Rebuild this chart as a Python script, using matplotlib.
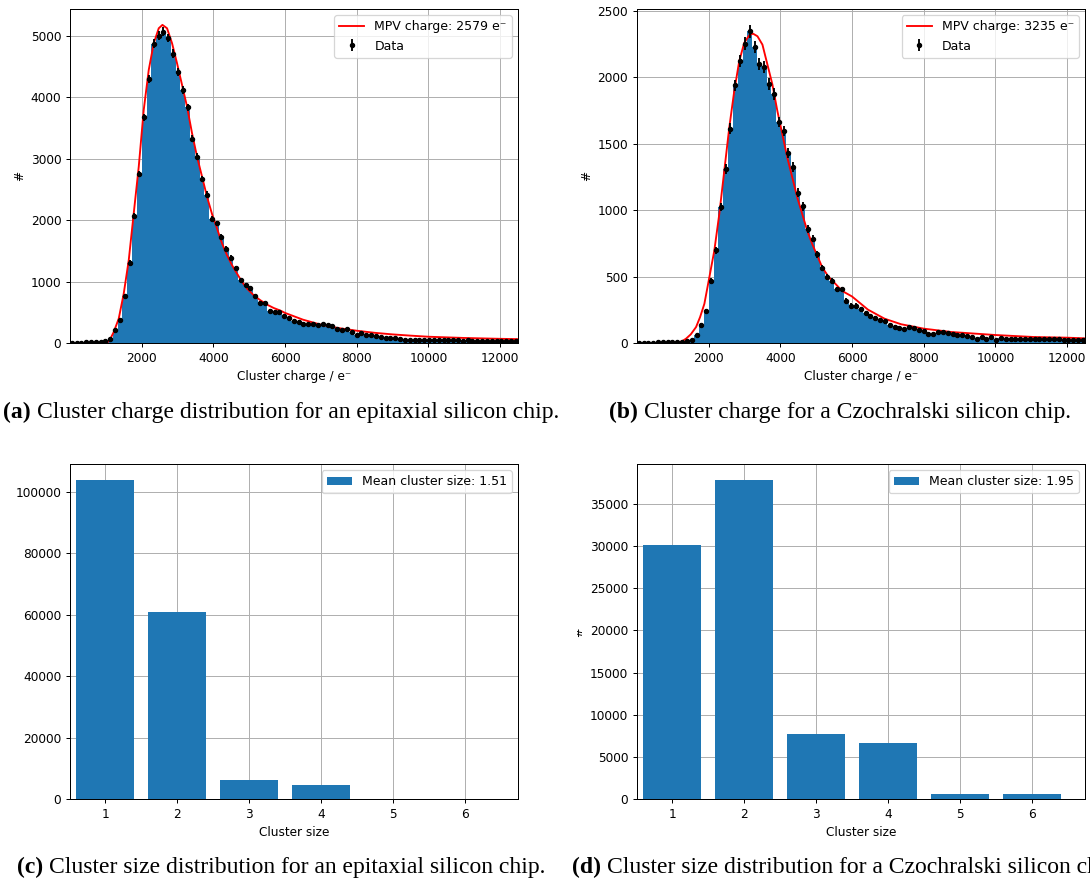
import numpy as np
import matplotlib
matplotlib.use("Agg")
import matplotlib.pyplot as plt
from matplotlib.transforms import Bbox

# ---------------- data ----------------
BIN_LO = -20          # first histogram bin edge (e-)
BIN_HI = 12510        # last histogram bin edge (e-)
XLIM = (0, 12500)

# (a) epitaxial chip: cluster charge histogram (counts per bin)
counts_epi = [
    5, 8, 8, 10, 10, 12, 18, 30,
    65, 207, 380, 760, 1310, 2070, 2755, 3675, 4295, 4875, 5005, 5070,
    4967, 4712, 4419, 4120, 3837, 3326, 3033, 2669, 2418, 2027, 1946, 1728,
    1533, 1391, 1217, 1033, 946, 891, 761, 652, 647, 527, 511, 505,
    440, 413, 360, 350, 312, 307, 304, 288, 312, 288, 275, 231, 217, 228,
    180, 136, 166, 125, 136, 117, 98, 87, 79, 79, 63,
    55, 52, 50, 55, 48, 50, 47, 45, 50, 45, 42, 45, 40, 42, 40, 38, 40, 37,
    35, 38, 35, 33, 35, 32,
]
fit_epi_x = [900, 1034, 1120, 1220, 1360, 1499, 1639, 1778, 1918, 2057, 2197,
             2336, 2476, 2579, 2708, 2848, 2987, 3127, 3266, 3406, 3545, 3685,
             3824, 3964, 4103, 4243, 4382, 4522, 4661, 4801, 4940, 5126, 5312,
             5498, 5684, 5870, 6000, 6500, 7000, 7500, 8000, 8500, 9000, 9500,
             10000, 11000, 12000, 12500]
fit_epi_y = [0, 3, 60, 179, 397, 804, 1348, 2109, 2870, 3794, 4446,
             4880, 5125, 5180, 5125, 4880, 4554, 4201, 3848, 3413, 3033, 2707,
             2380, 2098, 1864, 1620, 1429, 1266, 1130, 995, 886, 777, 696,
             625, 570, 528, 490, 380, 298, 242, 200, 166, 140, 120,
             102, 82, 68, 63]
mpv_epi = 2579

# (b) Czochralski chip: cluster charge histogram
counts_cz = [
    2, 3, 3, 3, 4, 4, 5, 5, 6,
    10, 12, 20, 58, 138, 243, 465, 698, 1025, 1308, 1613, 1938, 2120, 2253, 2345,
    2228, 2100, 2075, 1950, 1873, 1663, 1595, 1428, 1323, 1130, 1028, 858, 785,
    668, 563, 495, 468, 403, 403, 318,
    281, 281, 254, 226, 201, 191, 171, 166, 138, 121,
    116, 106, 121, 116, 98, 90, 68, 68, 80, 83,
    75, 70, 60, 58, 55, 45, 30, 48, 30, 43,
    20, 35, 33, 33, 33, 33, 33, 33, 30, 30,
    28, 28, 30, 28, 25, 25, 25, 25, 25,
]
fit_cz_x = [1000, 1094, 1250, 1370, 1500, 1648, 1760, 1880, 2019, 2157, 2296,
            2435, 2574, 2713, 2852, 2991, 3130, 3235, 3361, 3500, 3639, 3778,
            3917, 4056, 4194, 4333, 4472, 4611, 4750, 4889, 5028, 5167, 5352,
            5537, 5722, 6000, 6444, 6907, 7370, 8000, 8759, 10000, 11074,
            12000, 12500]
fit_cz_y = [0, 1, 12, 33, 65, 120, 195, 295, 495, 695, 970,
            1295, 1620, 1895, 2120, 2258, 2315, 2328, 2308, 2245, 2095, 1945,
            1745, 1570, 1395, 1245, 1095, 970, 845, 745, 658, 570, 495,
            445, 392, 350, 251, 183, 141, 108, 83, 60, 45,
            40, 35]
mpv_cz = 3235

charge_ticks = [2000, 4000, 6000, 8000, 10000, 12000]

# (c)/(d) cluster size distributions
cluster_sizes = [1, 2, 3, 4, 5, 6]
size_counts_epi = [103800, 60750, 6300, 4650, 60, 10]
size_counts_cz = [30110, 37840, 7650, 6700, 640, 640]
mean_size_epi = 1.51
mean_size_cz = 1.95

captions = [
    ("(a)", "Cluster charge distribution for an epitaxial silicon chip."),
    ("(b)", "Cluster charge for a Czochralski silicon chip."),
    ("(c)", "Cluster size distribution for an epitaxial silicon chip."),
    ("(d)", "Cluster size distribution for a Czochralski silicon chip."),
]

# ---------------- style ----------------
S = 0.9
plt.rcParams.update({
    "font.family": ["DejaVu Sans"],
    "font.size": 8.7,
    "legend.fontsize": 9.0,
    "axes.linewidth": 0.8 * S,
    "grid.linewidth": 0.8 * S,
    "lines.linewidth": 1.5 * S,
    "xtick.major.size": 3.5 * S, "ytick.major.size": 3.5 * S,
    "xtick.major.width": 0.8 * S, "ytick.major.width": 0.8 * S,
    "xtick.major.pad": 3.5 * S, "ytick.major.pad": 3.5 * S,
    "axes.labelpad": 4 * S,
    "patch.linewidth": 1.0 * S,
})

W, H = 1090, 884
fig = plt.figure(figsize=(W / 100, H / 100), dpi=100)
fig.patch.set_facecolor("white")


def add_axes(left, top, right, bottom):
    return fig.add_axes([left / W, 1 - bottom / H, (right - left) / W, (bottom - top) / H])


ax_a = add_axes(70, 9, 518, 343)
ax_b = add_axes(637, 9, 1085, 343)
ax_c = add_axes(70, 464, 518, 799)
ax_d = add_axes(637, 464, 1085, 799)


def charge_panel(ax, counts, fx, fy, mpv):
    counts = np.asarray(counts, dtype=float)
    edges = np.linspace(BIN_LO, BIN_HI, len(counts) + 1)
    centers = 0.5 * (edges[:-1] + edges[1:])
    ax.hist(centers, bins=edges, weights=counts, histtype="stepfilled", color="C0")
    ax.plot(fx, fy, color="red", label=f"MPV charge: {mpv} e\u207b")
    ax.errorbar(centers, counts, yerr=np.sqrt(counts), fmt=".", color="black",
                ms=5.8, label="Data")
    ax.set_xlim(*XLIM)
    ax.set_xticks(charge_ticks)
    ax.set_ylim(bottom=0)
    ax.set_axisbelow(True)
    ax.grid(True)
    ax.set_xlabel("Cluster charge / e\u207b")
    ax.set_ylabel("#")
    ax.legend(loc="upper right")


def size_panel(ax, counts, mean):
    ax.bar(cluster_sizes, counts, width=0.8, color="C0",
           label=f"Mean cluster size: {mean:.2f}")
    ax.set_xlim(0.51, 6.74)
    ax.set_xticks(cluster_sizes)
    ax.set_axisbelow(True)
    ax.grid(True)
    ax.set_xlabel("Cluster size")
    ax.legend(loc="upper right")


charge_panel(ax_a, counts_epi, fit_epi_x, fit_epi_y, mpv_epi)
charge_panel(ax_b, counts_cz, fit_cz_x, fit_cz_y, mpv_cz)
size_panel(ax_c, size_counts_epi, mean_size_epi)
size_panel(ax_d, size_counts_cz, mean_size_cz)

# y label of panel (d) is cropped by the subfigure boundary (only a sliver shows)
ax_d.set_ylabel("#")
lab = ax_d.yaxis.label
lab.set_clip_box(Bbox.from_extents(577, 0, W, H))
lab.set_clip_on(True)

# ---------------- captions ----------------
renderer = fig.canvas.get_renderer()
SERIF = ["Liberation Serif", "DejaVu Serif"]


def measure(size, tag, body):
    t1 = fig.text(0, 0, tag, fontsize=size, fontweight="bold", family=SERIF)
    t2 = fig.text(0, 0, body, fontsize=size, family=SERIF)
    w1 = t1.get_window_extent(renderer).width
    w2 = t2.get_window_extent(renderer).width
    t1.remove(); t2.remove()
    return w1, w2


w1, w2 = measure(10, *captions[0])
gap10 = 0.25 * 10 * 100 / 72
cap_size = 10 * 556 / (w1 + gap10 + w2)


def caption(xc, yb, tag, body):
    w1, w2 = measure(cap_size, tag, body)
    gap = 0.25 * cap_size * 100 / 72
    x0 = xc - (w1 + gap + w2) / 2
    fig.text(x0 / W, 1 - yb / H, tag, fontsize=cap_size, fontweight="bold",
             family=SERIF, va="baseline")
    fig.text((x0 + w1 + gap) / W, 1 - yb / H, body, fontsize=cap_size,
             family=SERIF, va="baseline")


caption(281, 418, *captions[0])
caption(840, 418, *captions[1])
caption(281, 873, *captions[2])
caption(848, 873, *captions[3])

fig.savefig("out.png", dpi=100, facecolor="white")
